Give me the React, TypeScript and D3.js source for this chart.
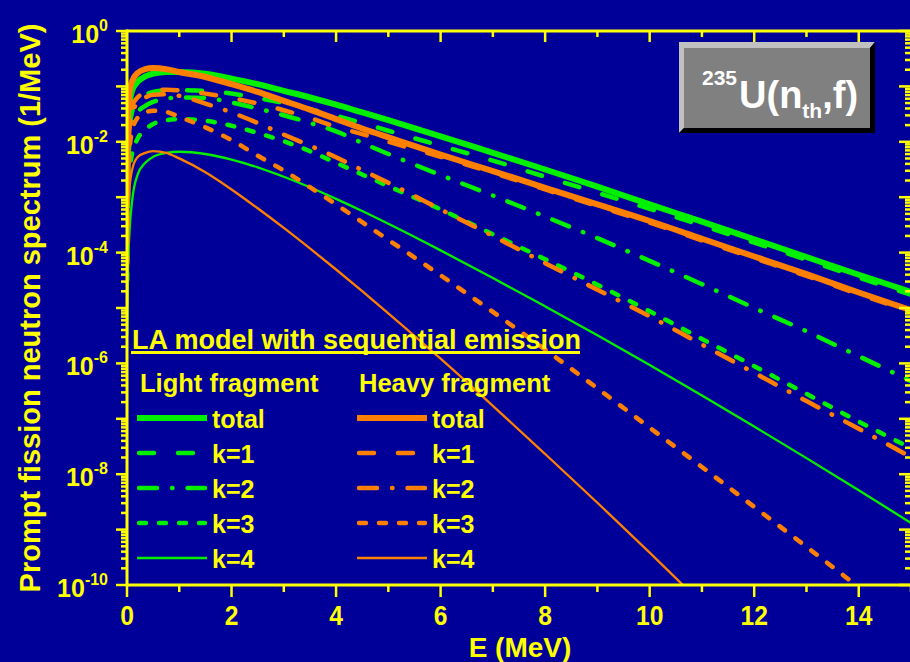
import React, { useEffect, useRef } from "react";
import * as d3 from "d3";

// neutron energy grid (MeV)
const energy = [0.003, 0.02, 0.05, 0.1, 0.2, 0.35, 0.5, 0.75, 1, 1.5, 2, 2.5, 3, 3.5, 4, 4.5, 5, 6, 7, 8, 9, 10, 11, 12, 13, 14, 15];

// log10 of the spectrum (1/MeV)
const lightTotal = [-3.2, -1.75, -1.3, -1.07, -0.92, -0.82, -0.77, -0.74, -0.74, -0.77, -0.86, -0.96, -1.08, -1.2, -1.33, -1.47, -1.61, -1.9, -2.2, -2.5, -2.81, -3.13, -3.44, -3.76, -4.08, -4.4, -4.71];
const lightK1 = [-3.8, -2.3, -1.75, -1.45, -1.25, -1.15, -1.1, -1.07, -1.07, -1.08, -1.13, -1.21, -1.3, -1.41, -1.53, -1.66, -1.8, -2.07, -2.34, -2.63, -2.92, -3.21, -3.51, -3.82, -4.13, -4.45, -4.76];
const lightK2 = [-4.0, -2.5, -2.0, -1.7, -1.48, -1.35, -1.28, -1.22, -1.2, -1.21, -1.29, -1.4, -1.52, -1.66, -1.81, -2.02, -2.22, -2.6, -2.97, -3.35, -3.74, -4.15, -4.57, -5.0, -5.42, -5.87, -6.32];
const lightK3 = [-4.5, -3.0, -2.55, -2.2, -1.95, -1.78, -1.68, -1.61, -1.59, -1.62, -1.71, -1.84, -1.99, -2.17, -2.38, -2.59, -2.8, -3.22, -3.67, -4.12, -4.58, -5.06, -5.56, -6.05, -6.55, -7.05, -7.53];
const lightK4 = [-5.5, -4.3, -3.6, -3.05, -2.6, -2.38, -2.27, -2.2, -2.18, -2.22, -2.32, -2.46, -2.63, -2.82, -3.03, -3.25, -3.48, -3.96, -4.46, -4.97, -5.49, -6.03, -6.58, -7.14, -7.71, -8.29, -8.88];

const heavyTotal = [-3.0, -1.5, -1.1, -0.9, -0.76, -0.69, -0.67, -0.69, -0.74, -0.83, -0.96, -1.1, -1.26, -1.42, -1.59, -1.76, -1.92, -2.23, -2.53, -2.83, -3.13, -3.43, -3.75, -4.07, -4.39, -4.72, -5.04];
const heavyK1 = [-3.5, -2.0, -1.6, -1.35, -1.2, -1.12, -1.08, -1.06, -1.07, -1.13, -1.21, -1.31, -1.43, -1.57, -1.73, -1.86, -2.0, -2.27, -2.56, -2.86, -3.16, -3.46, -3.78, -4.1, -4.42, -4.75, -5.07];
const heavyK2 = [-3.7, -2.2, -1.75, -1.48, -1.3, -1.2, -1.15, -1.14, -1.17, -1.31, -1.47, -1.66, -1.87, -2.07, -2.28, -2.51, -2.74, -3.22, -3.7, -4.19, -4.67, -5.15, -5.66, -6.17, -6.68, -7.18, -7.69];
const heavyK3 = [-4.2, -2.7, -2.15, -1.8, -1.57, -1.47, -1.44, -1.46, -1.55, -1.74, -1.97, -2.25, -2.52, -2.82, -3.13, -3.45, -3.77, -4.41, -5.07, -5.75, -6.45, -7.16, -7.87, -8.59, -9.31, -10.04, -10.77];
const heavyK4 = [-5.0, -3.3, -2.8, -2.5, -2.28, -2.2, -2.17, -2.2, -2.3, -2.55, -2.86, -3.2, -3.555, -3.925, -4.305, -4.695, -5.095, -5.915, -6.765, -7.635, -8.515, -9.415, -10.335, -11.27, -12.2, -13.1, -14.0];

const rowLabels = ["total", "k=1", "k=2", "k=3", "k=4"];
const xTicks = [0, 2, 4, 6, 8, 10, 12, 14];
const yLabelExps = [0, -2, -4, -6, -8, -10];

const W = 910;
const H = 662;
const BG = "#000099";
const YELLOW = "#ffff00";
const GREEN = "#00f000";
const ORANGE = "#ff8000";
const FONT = "'Liberation Sans', Arial, Helvetica, sans-serif";

// stroke style per row (total, k=1..4)
const styles = [
  { width: 6, dash: null },
  { width: 4.5, dash: "15,24" },
  { width: 4.5, dash: "18,15,0.5,15" },
  { width: 4.5, dash: "7,13" },
  { width: 2.3, dash: null },
];

const App = () => {
  const svgRef = useRef<SVGSVGElement | null>(null);

  useEffect(() => {
    const svg = d3.select(svgRef.current);
    svg.selectAll("*").remove();

    const x = d3.scaleLinear().domain([0, 15]).range([127, 911]);
    const y = d3.scaleLog().domain([1e-10, 1]).range([585, 31]);
    const [x0, x1] = x.range();
    const [yb, yt] = y.range();

    svg.append("rect").attr("width", W).attr("height", H).attr("fill", BG);

    svg.append("defs").append("clipPath").attr("id", "plot-clip")
      .append("rect")
      .attr("x", x0).attr("y", yt)
      .attr("width", x1 - x0).attr("height", yb - yt);

    // curves
    const line = d3.line<[number, number]>()
      .x((d) => x(d[0]))
      .y((d) => y(Math.pow(10, d[1])))
      .curve(d3.curveMonotoneX);

    const light = [lightTotal, lightK1, lightK2, lightK3, lightK4];
    const heavy = [heavyTotal, heavyK1, heavyK2, heavyK3, heavyK4];
    const series: { color: string; k: number; values: number[] }[] = [];
    [4, 3, 2, 1, 0].forEach((k) => series.push({ color: GREEN, k, values: light[k] }));
    [4, 3, 2, 1, 0].forEach((k) => series.push({ color: ORANGE, k, values: heavy[k] }));

    const plot = svg.append("g").attr("clip-path", "url(#plot-clip)");
    plot.selectAll("path.curve")
      .data(series)
      .join("path")
      .attr("class", "curve")
      .attr("fill", "none")
      .attr("stroke", (d) => d.color)
      .attr("stroke-width", (d) => styles[d.k].width)
      .attr("stroke-dasharray", (d) => styles[d.k].dash)
      .attr("stroke-linecap", (d) => (styles[d.k].dash ? "round" : "butt"))
      .attr("d", (d) => line(energy.map((e, i) => [e, d.values[i]] as [number, number])));

    // axes frame
    const axes = svg.append("g").attr("stroke", YELLOW).attr("stroke-width", 3);
    axes.append("line").attr("x1", x0).attr("x2", x1 + 2).attr("y1", yt).attr("y2", yt);
    axes.append("line").attr("x1", x0).attr("x2", x1 + 2).attr("y1", yb).attr("y2", yb);
    axes.append("line").attr("x1", x0).attr("x2", x0).attr("y1", yt - 1.5).attr("y2", yb + 1.5);
    axes.append("line").attr("x1", x1 + 1).attr("x2", x1 + 1).attr("y1", yt).attr("y2", yb);

    // x ticks: majors every 2, minors every 1
    const xMinor = d3.range(1, 16, 2);
    const tickG = svg.append("g").attr("stroke", YELLOW).attr("stroke-width", 2.5);
    tickG.selectAll("line.xmaj-b").data(xTicks).join("line")
      .attr("class", "xmaj-b")
      .attr("x1", (d) => x(d)).attr("x2", (d) => x(d))
      .attr("y1", yb).attr("y2", yb + 12);
    tickG.selectAll("line.xmin-b").data(xMinor).join("line")
      .attr("class", "xmin-b")
      .attr("x1", (d) => x(d)).attr("x2", (d) => x(d))
      .attr("y1", yb).attr("y2", yb + 7);
    tickG.selectAll("line.xmaj-t").data(xTicks.filter((d) => d > 0)).join("line")
      .attr("class", "xmaj-t")
      .attr("x1", (d) => x(d)).attr("x2", (d) => x(d))
      .attr("y1", yt).attr("y2", yt + 11);
    tickG.selectAll("line.xmin-t").data(xMinor).join("line")
      .attr("class", "xmin-t")
      .attr("x1", (d) => x(d)).attr("x2", (d) => x(d))
      .attr("y1", yt).attr("y2", yt + 6);

    // y ticks: every decade and log minors
    const decades = d3.range(-10, 1);
    const minors: number[] = [];
    d3.range(-10, 0).forEach((p) => {
      for (let m = 2; m <= 9; m++) minors.push(m * Math.pow(10, p));
    });
    const yTickG = svg.append("g").attr("stroke", YELLOW).attr("stroke-width", 2.5);
    yTickG.selectAll("line.ymaj-l").data(decades).join("line")
      .attr("class", "ymaj-l")
      .attr("x1", x0 - 11).attr("x2", x0)
      .attr("y1", (d) => y(Math.pow(10, d))).attr("y2", (d) => y(Math.pow(10, d)));
    yTickG.selectAll("line.ymin-l").data(minors).join("line")
      .attr("class", "ymin-l")
      .attr("x1", x0 - 6).attr("x2", x0)
      .attr("y1", (d) => y(d)).attr("y2", (d) => y(d));
    yTickG.selectAll("line.ymaj-r").data(decades).join("line")
      .attr("class", "ymaj-r")
      .attr("x1", x1 - 12).attr("x2", x1)
      .attr("y1", (d) => y(Math.pow(10, d))).attr("y2", (d) => y(Math.pow(10, d)));
    yTickG.selectAll("line.ymin-r").data(minors).join("line")
      .attr("class", "ymin-r")
      .attr("x1", x1 - 6).attr("x2", x1)
      .attr("y1", (d) => y(d)).attr("y2", (d) => y(d));

    const txt = svg.append("g")
      .attr("fill", YELLOW)
      .attr("font-family", FONT)
      .attr("font-weight", "bold");

    // x tick labels (narrow, tall digits)
    txt.selectAll("text.xl").data(xTicks).join("text")
      .attr("class", "xl")
      .attr("text-anchor", "middle")
      .attr("font-size", 28)
      .attr("transform", (d) => `translate(${x(d)},${yb + 40}) scale(0.88,1)`)
      .text((d) => d);

    // y tick labels 10^n
    const yl = txt.selectAll("text.yl").data(yLabelExps).join("text")
      .attr("class", "yl")
      .attr("text-anchor", "end")
      .attr("x", 108)
      .attr("y", (d) => y(Math.pow(10, d)) + 12);
    yl.append("tspan").attr("font-size", 25).text("10");
    yl.append("tspan").attr("font-size", 16).attr("dy", -12).text((d) => String(d));

    // axis titles
    txt.append("text")
      .attr("text-anchor", "middle")
      .attr("font-size", 28)
      .attr("x", 520).attr("y", 656.5)
      .text("E (MeV)");
    txt.append("text")
      .attr("text-anchor", "middle")
      .attr("font-size", 29)
      .attr("transform", `translate(40,${(yt + yb) / 2}) rotate(-90)`)
      .text("Prompt fission neutron spectrum (1/MeV)");

    // legend
    txt.append("text")
      .attr("font-size", 27)
      .attr("x", 132).attr("y", 349)
      .text("LA model with sequential emission");
    svg.append("line")
      .attr("x1", 131).attr("x2", 580).attr("y1", 352.5).attr("y2", 352.5)
      .attr("stroke", YELLOW).attr("stroke-width", 3);

    const legendCols = [
      { title: "Light fragment", tx: 140, lx: 139, color: GREEN, labelX: 212 },
      { title: "Heavy fragment", tx: 359, lx: 359, color: ORANGE, labelX: 432 },
    ];
    const rowY = [418, 453, 488, 523, 558];
    legendCols.forEach((c) => {
      txt.append("text").attr("font-size", 25.5).attr("x", c.tx).attr("y", 392).text(c.title);
      rowLabels.forEach((lab, k) => {
        const st = styles[k];
        svg.append("line")
          .attr("x1", k === 0 || k === 4 ? c.lx - 2 : c.lx)
          .attr("x2", k === 0 || k === 4 ? c.lx + 68 : c.lx + 66)
          .attr("y1", rowY[k]).attr("y2", rowY[k])
          .attr("stroke", c.color)
          .attr("stroke-width", st.width)
          .attr("stroke-dasharray", st.dash)
          .attr("stroke-linecap", st.dash ? "round" : "butt");
        txt.append("text").attr("font-size", 25).attr("x", c.labelX).attr("y", rowY[k] + 10).text(lab);
      });
    });

    // title box with bevel
    const bx0 = 679, by0 = 42, bx1 = 875, by1 = 133, b = 5;
    svg.append("polygon")
      .attr("points", [[bx0, by0], [bx1, by0], [bx1 - b, by0 + b + 1], [bx0 + b, by0 + b + 1], [bx0 + b, by1 - b], [bx0, by1]].map((p) => p.join(",")).join(" "))
      .attr("fill", "#c0c0c0");
    svg.append("polygon")
      .attr("points", [[bx1, by0], [bx1, by1], [bx0, by1], [bx0 + b, by1 - b], [bx1 - b, by1 - b], [bx1 - b, by0 + b + 1]].map((p) => p.join(",")).join(" "))
      .attr("fill", "#000000");
    svg.append("rect")
      .attr("x", bx0 + b).attr("y", by0 + b + 1)
      .attr("width", bx1 - bx0 - 2 * b).attr("height", by1 - by0 - 2 * b - 1)
      .attr("fill", "#808080");

    const title = svg.append("text")
      .attr("fill", "#ffffff")
      .attr("font-family", FONT)
      .attr("font-weight", "bold")
      .attr("x", 702).attr("y", 108);
    title.append("tspan").attr("font-size", 21).attr("dy", -23).text("235");
    title.append("tspan").attr("font-size", 38).attr("dy", 23).attr("dx", 2).text("U(n");
    title.append("tspan").attr("font-size", 21).attr("dy", 10).text("th");
    title.append("tspan").attr("font-size", 38).attr("dy", -10).text(",f)");
  }, []);

  return (
    <svg
      ref={svgRef}
      width={W}
      height={H}
      style={{ position: "absolute", left: 0, top: 0, display: "block" }}
      role="img"
      aria-label="Prompt fission neutron spectrum"
    />
  );
};

export default App;
